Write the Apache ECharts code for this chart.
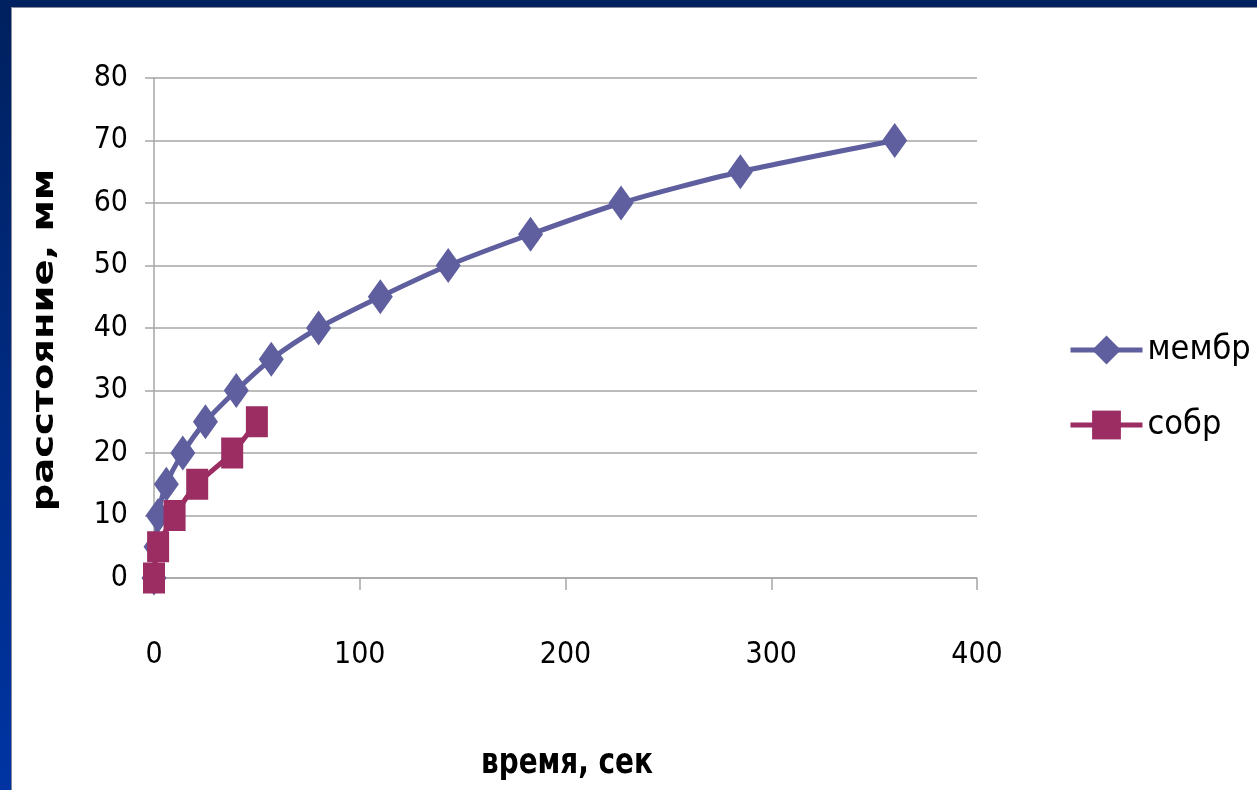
<!DOCTYPE html>
<html>
<head>
<meta charset="utf-8">
<script src="https://cdn.jsdelivr.net/npm/echarts@6/dist/echarts.min.js"></script>
<style>
  html, body { margin: 0; padding: 0; background: #ffffff; }
  #chart { width: 1257px; height: 790px; }
</style>
</head>
<body>
<div id="chart"></div>
<script>
// время (сек) и расстояние (мм) для двух образцов
const membrTime = [0, 1, 2, 6, 14, 25, 40, 57, 80, 110, 143, 183, 227, 285, 360];
const membrDist = [0, 5, 10, 15, 20, 25, 30, 35, 40, 45, 50, 55, 60, 65, 70];
const sobrTime = [0, 2, 10, 21, 38, 50];
const sobrDist = [0, 5, 10, 15, 20, 25];
const seriesNames = ['мембр', 'собр'];
const xTitle = 'время, сек';
const yTitle = 'расстояние, мм';

const pairs = (xs, ys) => xs.map((x, i) => [x, ys[i]]);

const labelFont = '"DejaVu Sans Condensed", "Liberation Sans Narrow", sans-serif';
const gridGray = '#a6a6a6';
const membrColor = '#5f5f9f';
const sobrColor = '#9b2d62';

const chart = echarts.init(document.getElementById('chart'), null, { renderer: 'canvas' });

chart.setOption({
  animation: false,
  backgroundColor: '#ffffff',
  graphic: [
    // рамка слайда: тёмная полоса сверху, синий градиент слева
    { type: 'rect', left: 0, top: 0, shape: { width: 1257, height: 7 }, style: { fill: '#00215f' }, z: 10 },
    { type: 'rect', left: 0, top: 0, shape: { width: 11, height: 790 },
      style: { fill: new echarts.graphic.LinearGradient(0, 0, 0, 1, [
        { offset: 0, color: '#00215f' }, { offset: 1, color: '#0034a3' }]) }, z: 10 },
    { type: 'rect', left: 11, top: 7, shape: { width: 1246, height: 1 }, style: { fill: '#8a8a9a' }, z: 10 },
    { type: 'rect', left: 11, top: 7, shape: { width: 1, height: 783 }, style: { fill: '#8a8a9a' }, z: 10 },
    // подписи осей (растянутый полужирный шрифт)
    { type: 'text', x: 45, y: 340, rotation: Math.PI / 2, scaleX: 1.28, scaleY: 1,
      style: { text: yTitle, font: 'bold 30px "DejaVu Sans", sans-serif', fill: '#000',
               align: 'center', verticalAlign: 'middle' } },
    { type: 'text', x: 567, y: 764, scaleX: 1, scaleY: 1.15,
      style: { text: xTitle, font: 'bold 31px "DejaVu Sans Condensed", sans-serif', fill: '#000',
               align: 'center', verticalAlign: 'middle' } }
  ],
  grid: { left: 154, right: 280, top: 78, bottom: 212 },
  xAxis: {
    type: 'value', min: 0, max: 400, interval: 100,
    axisLine: { show: true, lineStyle: { color: gridGray, width: 1.5 } },
    axisTick: { show: true, length: 12, lineStyle: { color: gridGray, width: 1.5 } },
    axisLabel: { margin: 62, fontFamily: labelFont, fontSize: 30, color: '#000' },
    splitLine: { show: false }
  },
  yAxis: {
    type: 'value', min: 0, max: 80, interval: 10,
    axisLine: { show: true, lineStyle: { color: gridGray, width: 1.5 } },
    axisTick: { show: true, length: 9, lineStyle: { color: gridGray, width: 1.5 } },
    axisLabel: { margin: 26, fontFamily: labelFont, fontSize: 30, color: '#000' },
    splitLine: { show: true, lineStyle: { color: gridGray, width: 1.5 } }
  },
  legend: {
    orient: 'vertical', left: 1063, top: 328,
    itemWidth: 72, itemHeight: 36, itemGap: 41,
    lineStyle: { width: 5 },
    textStyle: { fontFamily: labelFont, fontSize: 34, color: '#000', padding: [6, 0, 0, 0] },
    data: seriesNames
  },
  series: [
    {
      name: seriesNames[0], type: 'line', smooth: 0.25,
      data: pairs(membrTime, membrDist),
      symbol: 'diamond', symbolSize: [25, 35],
      lineStyle: { color: membrColor, width: 5 },
      itemStyle: { color: membrColor },
      z: 2
    },
    {
      name: seriesNames[1], type: 'line', smooth: 0.25,
      data: pairs(sobrTime, sobrDist),
      symbol: 'rect', symbolSize: [22, 31],
      lineStyle: { color: sobrColor, width: 5 },
      itemStyle: { color: sobrColor },
      z: 3
    }
  ]
});
</script>
</body>
</html>
